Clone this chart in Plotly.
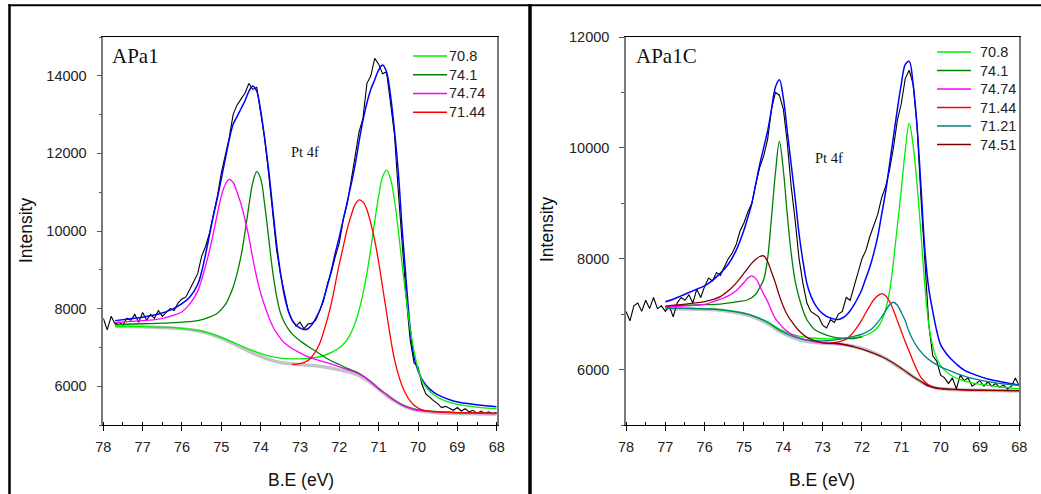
import plotly.graph_objects as go

# ---------------------------------------------------------------
# Pt 4f XPS fits for two samples: APa1 (left) and APa1C (right)
# ---------------------------------------------------------------

# Binding-energy sampling of the measured spectra (eV)
be_raw = [78.0, 77.9, 77.8, 77.7, 77.6, 77.5, 77.4, 77.3, 77.2, 77.1,
          77.0, 76.9, 76.8, 76.7, 76.6, 76.5, 76.4, 76.3, 76.2, 76.1,
          76.0, 75.9, 75.8, 75.7, 75.6, 75.5, 75.4, 75.3, 75.2, 75.1,
          75.0, 74.9, 74.8, 74.7, 74.6, 74.5, 74.4, 74.3, 74.2, 74.1,
          74.0, 73.9, 73.8, 73.7, 73.6, 73.5, 73.4, 73.3, 73.2, 73.1,
          73.0, 72.9, 72.8, 72.7, 72.6, 72.5, 72.4, 72.3, 72.2, 72.1,
          72.0, 71.9, 71.8, 71.7, 71.6, 71.5, 71.4, 71.3, 71.2, 71.1,
          71.0, 70.9, 70.8, 70.7, 70.6, 70.5, 70.4, 70.3, 70.2, 70.1,
          70.0, 69.9, 69.8, 69.7, 69.6, 69.5, 69.4, 69.3, 69.2, 69.1,
          69.0, 68.9, 68.8, 68.7, 68.6, 68.5, 68.4, 68.3, 68.2, 68.1, 68.0]

# ---------------- APa1 ----------------
raw_apa1 = [7750, 7450, 7800, 7600, 7650, 7580, 7750, 7700, 7850, 7650,
            7900, 7700, 7850, 7750, 7950, 7800, 7900, 8000, 7950, 8150,
            8250, 8300, 8500, 8700, 8900, 9350, 9600, 9950, 10400, 10900,
            11500, 11950, 12400, 13000, 13250, 13400, 13550, 13800, 13650, 13700,
            13100, 12400, 11500, 10500, 9550, 8900, 8400, 7950, 7700, 7550,
            7650, 7480, 7600, 7620, 7700, 7950, 8200, 8650, 8950, 9350,
            9700, 10300, 10700, 11300, 11900, 12550, 12900, 13800, 14000, 14450,
            14300, 14050, 14100, 13300, 12500, 11000, 9600, 8300, 7200, 6600,
            6500, 6050, 5800, 5700, 5620, 5550, 5450, 5480, 5430, 5380,
            5450, 5360, 5420, 5340, 5380, 5300, 5360, 5300, 5340, 5290, 5330]

be_bg_apa1 = [77.7, 77.0, 76.5, 76.0, 75.6, 75.3, 75.0, 74.7, 74.4, 74.1, 73.8, 73.5, 73.2, 72.9,
              72.6, 72.3, 72.0, 71.7, 71.4, 71.1, 70.8, 70.5, 70.2, 69.9, 69.6, 69.2, 68.6, 68.0]
bg_apa1 = [7540, 7530, 7515, 7480, 7430, 7350, 7240, 7100, 6950, 6810, 6690, 6610, 6575, 6550,
           6525, 6480, 6420, 6350, 6220, 6010, 5760, 5560, 5420, 5360, 5320, 5300, 5290, 5280]

be_env_apa1 = [77.7, 77.3, 77.0, 76.6, 76.3, 76.0, 75.8, 75.6, 75.5, 75.4, 75.3, 75.2, 75.1, 75.0,
               74.9, 74.8, 74.7, 74.6, 74.5, 74.4, 74.3, 74.2, 74.1, 74.0, 73.9, 73.8, 73.7, 73.6,
               73.5, 73.4, 73.3, 73.2, 73.1, 73.0, 72.9, 72.8, 72.7, 72.6, 72.5, 72.4, 72.3, 72.2,
               72.1, 72.0, 71.9, 71.8, 71.7, 71.6, 71.5, 71.4, 71.3, 71.2, 71.1, 71.0, 70.9, 70.8,
               70.7, 70.6, 70.5, 70.4, 70.3, 70.2, 70.1, 70.0, 69.9, 69.8, 69.6, 69.4, 69.1, 68.8,
               68.4, 68.0]
env_apa1 = [7690, 7740, 7780, 7860, 7960, 8130, 8300, 8620, 8950, 9400, 9900, 10400, 10850, 11350,
            11850, 12350, 12750, 12950, 13150, 13350, 13600, 13740, 13600, 13100, 12400, 11600, 10650, 9700,
            8950, 8350, 7950, 7700, 7570, 7500, 7460, 7480, 7580, 7750, 7950, 8250, 8600, 9000,
            9450, 9850, 10300, 10750, 11200, 11700, 12300, 12850, 13300, 13650, 13900, 14150, 14280, 14100,
            13500, 12600, 11500, 10000, 8700, 7500, 6750, 6400, 6180, 6030, 5840, 5730, 5620, 5560,
            5510, 5470]

be_p708_apa1 = [77.7, 77.0, 76.5, 76.0, 75.6, 75.3, 75.0, 74.7, 74.4, 74.1, 73.8, 73.5, 73.2, 72.9,
                72.6, 72.4, 72.2, 72.0, 71.9, 71.8, 71.7, 71.6, 71.5, 71.4, 71.3, 71.2, 71.1, 71.0,
                70.9, 70.8, 70.7, 70.6, 70.5, 70.4, 70.3, 70.2, 70.1, 70.0, 69.9, 69.8, 69.6, 69.4,
                69.1, 68.8, 68.4, 68.0]
p708_apa1 = [7545, 7535, 7520, 7490, 7440, 7370, 7260, 7130, 7000, 6880, 6780, 6725, 6705, 6710,
             6740, 6790, 6870, 6990, 7080, 7200, 7380, 7620, 7950, 8380, 8900, 9550, 10250, 10900,
             11400, 11570, 11350, 10800, 10000, 9100, 8250, 7500, 6900, 6450, 6150, 5980, 5780, 5660,
             5560, 5500, 5450, 5420]

be_p741_apa1 = [77.7, 77.0, 76.5, 76.0, 75.6, 75.3, 75.1, 74.9, 74.8, 74.7, 74.6, 74.5, 74.4, 74.3,
                74.2, 74.1, 74.0, 73.9, 73.8, 73.7, 73.6, 73.5, 73.4, 73.3, 73.2, 73.0, 72.8, 72.6,
                72.4, 72.2, 72.0, 71.8, 71.6, 71.4, 71.2, 71.0, 70.8, 70.6, 70.4, 70.2, 70.0, 69.5,
                69.0, 68.0]
p741_apa1 = [7590, 7610, 7625, 7650, 7690, 7780, 7880, 8100, 8300, 8550, 8900, 9350, 9950, 10650,
             11250, 11530, 11350, 10700, 9850, 9000, 8350, 7900, 7650, 7480, 7350, 7170, 7030, 6900,
             6770, 6650, 6560, 6460, 6380, 6270, 6120, 5940, 5790, 5640, 5520, 5440, 5390, 5345,
             5320, 5300]

be_p7474_apa1 = [77.7, 77.3, 77.0, 76.6, 76.3, 76.0, 75.8, 75.6, 75.5, 75.4, 75.3, 75.2, 75.1, 75.0,
                 74.9, 74.8, 74.7, 74.6, 74.5, 74.4, 74.3, 74.2, 74.1, 74.0, 73.9, 73.8, 73.7, 73.6,
                 73.5, 73.4, 73.2, 73.0, 72.8, 72.6, 72.4, 72.2, 72.0, 71.8, 71.6, 71.4, 71.2, 71.0,
                 70.8, 70.6, 70.4, 70.2, 70.0, 69.5, 69.0, 68.0]
p7474_apa1 = [7640, 7670, 7690, 7730, 7800, 7920, 8120, 8450, 8750, 9100, 9500, 9950, 10450, 10900,
              11200, 11330, 11250, 11000, 10700, 10300, 9850, 9300, 8800, 8400, 8080, 7800, 7560, 7380,
              7240, 7120, 6970, 6860, 6760, 6690, 6630, 6570, 6500, 6430, 6360, 6260, 6110, 5930,
              5780, 5630, 5510, 5430, 5380, 5340, 5315, 5295]

be_p7144_apa1 = [73.2, 73.0, 72.8, 72.7, 72.6, 72.5, 72.4, 72.3, 72.2, 72.1, 72.0, 71.9, 71.8, 71.7,
                 71.6, 71.5, 71.4, 71.3, 71.2, 71.1, 71.0, 70.9, 70.8, 70.7, 70.6, 70.5, 70.4, 70.3,
                 70.2, 70.1, 70.0, 69.9, 69.7, 69.4, 69.0, 68.5, 68.0]
p7144_apa1 = [6560, 6580, 6660, 6760, 6900, 7100, 7400, 7750, 8150, 8650, 9150, 9600, 10050, 10400,
              10680, 10800, 10750, 10550, 10200, 9750, 9200, 8550, 7900, 7250, 6700, 6300, 6000, 5780,
              5620, 5510, 5440, 5390, 5350, 5330, 5320, 5310, 5305]

# ---------------- APa1C ----------------
raw_apa1c = [7050, 6880, 7150, 7200, 7050, 7250, 7100, 7300, 7100, 7150,
             7050, 7150, 6950, 7200, 7300, 7250, 7350, 7200, 7450, 7300,
             7500, 7650, 7600, 7750, 7700, 7850, 8000, 8100, 8250, 8500,
             8650, 8850, 9000, 9350, 9650, 9850, 10150, 10700, 11000, 10950,
             10700, 10100, 9300, 8700, 8000, 7550, 7200, 7050, 7000, 6950,
             6800, 6750, 6900, 6850, 7000, 7050, 7300, 7250, 7500, 7750,
             8000, 8150, 8400, 8600, 8800, 9100, 9300, 9600, 10000, 10500,
             10800, 11250, 11400, 11150, 10400, 9100, 7900, 6800, 6250, 6150,
             5900, 5850, 5750, 5850, 5650, 5900, 5800, 5850, 5700, 5750,
             5800, 5700, 5780, 5700, 5750, 5680, 5720, 5650, 5700, 5850, 5700]

be_bg_apa1c = [77.0, 76.5, 76.0, 75.6, 75.2, 74.8, 74.4, 74.1, 73.8, 73.5, 73.2, 72.9, 72.6,
               72.3, 72.0, 71.7, 71.4, 71.1, 70.8, 70.5, 70.2, 69.9, 69.5, 69.0, 68.0]
bg_apa1c = [7102, 7095, 7085, 7072, 7030, 6960, 6830, 6690, 6590, 6520, 6490, 6475, 6460,
            6430, 6380, 6300, 6200, 6060, 5920, 5780, 5680, 5650, 5635, 5625, 5615]

be_env_apa1c = [77.0, 76.8, 76.6, 76.4, 76.2, 76.0, 75.8, 75.6, 75.4, 75.2, 75.0, 74.9, 74.8, 74.7,
                74.6, 74.5, 74.4, 74.3, 74.2, 74.1, 74.0, 73.9, 73.8, 73.7, 73.6, 73.5, 73.4, 73.3,
                73.2, 73.1, 73.0, 72.9, 72.8, 72.7, 72.6, 72.5, 72.4, 72.3, 72.2, 72.1, 72.0, 71.9,
                71.8, 71.7, 71.6, 71.5, 71.4, 71.3, 71.2, 71.1, 71.0, 70.9, 70.8, 70.7, 70.6, 70.5,
                70.4, 70.3, 70.2, 70.1, 70.0, 69.8, 69.6, 69.4, 69.1, 68.8, 68.4, 68.0]
env_apa1c = [7224, 7270, 7330, 7390, 7450, 7510, 7610, 7740, 7900, 8150, 8520, 8750, 9000, 9350,
             9700, 10000, 10300, 10700, 11100, 11230, 10900, 10300, 9700, 9100, 8450, 7950, 7550, 7330,
             7180, 7080, 7010, 6960, 6930, 6910, 6905, 6930, 6980, 7060, 7170, 7300, 7450, 7650,
             7850, 8100, 8400, 8800, 9200, 9700, 10200, 10700, 11150, 11500, 11560, 11150, 10400, 9300,
             8150, 7450, 7050, 6700, 6450, 6240, 6100, 5990, 5900, 5830, 5770, 5717]

be_p708_apa1c = [77.0, 76.0, 75.2, 74.8, 74.4, 74.1, 73.8, 73.5, 73.2, 72.9, 72.6, 72.3, 72.0, 71.8,
                 71.6, 71.5, 71.4, 71.3, 71.2, 71.1, 71.0, 70.9, 70.8, 70.7, 70.6, 70.5, 70.4, 70.3,
                 70.2, 70.1, 70.0, 69.9, 69.7, 69.5, 69.2, 68.8, 68.4, 68.0]
p708_apa1c = [7110, 7095, 7045, 6980, 6860, 6730, 6640, 6590, 6565, 6555, 6555, 6570, 6600, 6650,
              6760, 6880, 7080, 7400, 7950, 8600, 9250, 9950, 10440, 10050, 9350, 8450, 7500, 6800,
              6420, 6200, 6070, 5990, 5880, 5820, 5760, 5715, 5680, 5656]

be_p741_apa1c = [77.0, 76.5, 76.0, 75.6, 75.2, 74.9, 74.7, 74.6, 74.5, 74.4, 74.3, 74.2, 74.1, 74.0,
                 73.9, 73.8, 73.7, 73.6, 73.5, 73.4, 73.3, 73.2, 73.0, 72.8, 72.6, 72.4, 72.2, 72.0]
p741_apa1c = [7134, 7160, 7170, 7182, 7220, 7260, 7360, 7480, 7620, 8000, 8750, 9550, 10118, 9600,
              8800, 8100, 7600, 7300, 7070, 6900, 6800, 6720, 6650, 6600, 6570, 6560, 6560, 6590]

be_p7474_apa1c = [77.0, 76.5, 76.0, 75.8, 75.6, 75.4, 75.2, 75.1, 75.0, 74.9, 74.8, 74.7, 74.6, 74.5,
                  74.4, 74.3, 74.2, 74.1, 74.0, 73.8, 73.6, 73.4, 73.2, 73.0, 72.8, 72.6, 72.4, 72.2]
p7474_apa1c = [7134, 7150, 7175, 7220, 7270, 7330, 7420, 7495, 7570, 7650, 7690, 7640, 7510, 7360,
               7230, 7060, 6920, 6830, 6750, 6640, 6570, 6530, 6500, 6480, 6470, 6460, 6445, 6420]

be_p7144_apa1c = [72.8, 72.6, 72.4, 72.3, 72.2, 72.1, 72.0, 71.9, 71.8, 71.7, 71.6, 71.5, 71.4, 71.3,
                  71.2, 71.1, 71.0, 70.9, 70.8, 70.7, 70.6, 70.5, 70.4, 70.3, 70.2, 70.0, 69.5, 69.0, 68.0]
p7144_apa1c = [6480, 6500, 6550, 6610, 6690, 6790, 6900, 7030, 7150, 7260, 7330, 7370, 7330, 7230,
               7070, 6880, 6690, 6500, 6330, 6150, 5990, 5860, 5780, 5720, 5685, 5650, 5635, 5625, 5615]

be_p7121_apa1c = [77.0, 76.5, 76.0, 75.6, 75.2, 74.8, 74.4, 74.1, 73.8, 73.5, 73.2, 72.9, 72.6, 72.4,
                  72.2, 72.0, 71.8, 71.7, 71.6, 71.5, 71.4, 71.3, 71.2, 71.1, 71.0, 70.9, 70.8, 70.7,
                  70.6, 70.5, 70.4, 70.2, 70.0, 69.8, 69.6, 69.3, 69.0, 68.6, 68.3, 68.0]
p7121_apa1c = [7110, 7105, 7095, 7082, 7040, 6975, 6850, 6710, 6610, 6545, 6520, 6520, 6545, 6570,
               6600, 6640, 6710, 6770, 6850, 6950, 7060, 7170, 7215, 7160, 7030, 6880, 6680, 6530,
               6410, 6320, 6240, 6130, 6050, 5990, 5930, 5860, 5810, 5760, 5735, 5717]

be_p7451_apa1c = [77.0, 76.5, 76.0, 75.8, 75.6, 75.4, 75.2, 75.0, 74.9, 74.8, 74.7, 74.6, 74.5, 74.4,
                  74.3, 74.2, 74.1, 74.0, 73.9, 73.8, 73.6, 73.4, 73.2, 73.0, 72.6, 72.2, 71.8, 71.4,
                  71.0, 70.7, 70.5, 70.3, 70.0, 69.5, 69.0, 68.0]
p7451_apa1c = [7146, 7180, 7225, 7260, 7315, 7420, 7560, 7740, 7830, 7920, 7990, 8040, 8050, 7950,
               7760, 7560, 7330, 7140, 6990, 6880, 6700, 6580, 6520, 6480, 6470, 6410, 6320, 6200,
               6025, 5870, 5785, 5700, 5660, 5640, 5630, 5620]

# Tick values
x_ticks = [78, 77, 76, 75, 74, 73, 72, 71, 70, 69, 68]

# Styling
C_GREEN, C_DKGREEN, C_MAGENTA = "#00ee00", "#008000", "#ff00ff"
C_RED, C_TEAL, C_BROWN = "#ff0000", "#008080", "#800000"
SANS = "Arial, 'Liberation Sans', sans-serif"
SERIF = "'Times New Roman', 'Liberation Serif', serif"
W, H = 1041, 494

# Fitted components per panel: (binding energies, intensities, colour, peak label)
components_apa1 = [
    (be_p708_apa1, p708_apa1, C_GREEN, "70.8"),
    (be_p741_apa1, p741_apa1, C_DKGREEN, "74.1"),
    (be_p7474_apa1, p7474_apa1, C_MAGENTA, "74.74"),
    (be_p7144_apa1, p7144_apa1, C_RED, "71.44"),
]
components_apa1c = [
    (be_p708_apa1c, p708_apa1c, C_GREEN, "70.8"),
    (be_p741_apa1c, p741_apa1c, C_DKGREEN, "74.1"),
    (be_p7474_apa1c, p7474_apa1c, C_MAGENTA, "74.74"),
    (be_p7144_apa1c, p7144_apa1c, C_RED, "71.44"),
    (be_p7121_apa1c, p7121_apa1c, C_TEAL, "71.21"),
    (be_p7451_apa1c, p7451_apa1c, C_BROWN, "74.51"),
]

fig = go.Figure()


def curve(x, y, color, width, xa, ya, name=None, shape="spline"):
    fig.add_trace(go.Scatter(
        x=x, y=y, mode="lines", name=name,
        line=dict(color=color, width=width, shape=shape),
        showlegend=False, xaxis=xa, yaxis=ya, hoverinfo="skip"))


def panel(bg_x, bg_y, raw_y, env_x, env_y, comps, xa, ya):
    curve(bg_x, bg_y, "#c4c4c4", 3.5, xa, ya, name="background")
    curve(be_raw, raw_y, "#000000", 1.1, xa, ya, name="measured", shape="linear")
    curve(env_x, env_y, "#0000ff", 1.5, xa, ya, name="envelope")
    for bx, by, col, lab in comps:
        curve(bx, by, col, 1.3, xa, ya, name=lab)


panel(be_bg_apa1, bg_apa1, raw_apa1, be_env_apa1, env_apa1, components_apa1, "x", "y")
panel(be_bg_apa1c, bg_apa1c, raw_apa1c, be_env_apa1c, env_apa1c, components_apa1c, "x2", "y2")


def px(x):
    return x / W


def py(y):
    return 1 - y / H


y_dom = [py(425), py(37)]

xaxis_common = dict(
    range=[78, 68], tickmode="array", tickvals=x_ticks,
    ticks="outside", ticklen=5, tickwidth=1, tickcolor="#000",
    minor=dict(dtick=0.5, tick0=68, ticks="inside", ticklen=3, tickcolor="#000", tickwidth=1),
    showline=True, linecolor="#000", linewidth=1, mirror=True,
    showgrid=False, zeroline=False, automargin=False,
    tickfont=dict(family=SANS, size=14.5, color="#222"),
    ticklabelstandoff=4,
)
yaxis_common = dict(
    dtick=2000, tick0=0, tickformat="d",
    ticks="outside", ticklen=5, tickwidth=1, tickcolor="#555",
    minor=dict(dtick=1000, tick0=0, ticks="outside", ticklen=3, tickcolor="#555", tickwidth=1),
    showline=True, linecolor="#7a7a7a", linewidth=1.5, mirror=True,
    showgrid=False, zeroline=False, automargin=False,
    tickfont=dict(family=SANS, size=14.5, color="#222"),
    ticklabelstandoff=7,
)

annotations = [
    dict(text="APa1", x=px(110), y=py(56), xanchor="left", yanchor="middle",
         font=dict(family=SERIF, size=21, color="#111")),
    dict(text="APa1C", x=px(634), y=py(56), xanchor="left", yanchor="middle",
         font=dict(family=SERIF, size=21, color="#111")),
    dict(text="Pt 4f", x=px(305), y=py(152), xanchor="center", yanchor="middle",
         font=dict(family=SERIF, size=14.5, color="#111")),
    dict(text="Pt 4f", x=px(829), y=py(158), xanchor="center", yanchor="middle",
         font=dict(family=SERIF, size=14.5, color="#111")),
    dict(text="Intensity", x=px(26), y=py(231), textangle=-90, xanchor="center", yanchor="middle",
         font=dict(family=SANS, size=17.5, color="#111")),
    dict(text="Intensity", x=px(547), y=py(230), textangle=-90, xanchor="center", yanchor="middle",
         font=dict(family=SANS, size=17.5, color="#111")),
    dict(text="B.E (eV)", x=px(301), y=py(480), xanchor="center", yanchor="middle",
         font=dict(family=SANS, size=17.5, color="#111")),
    dict(text="B.E (eV)", x=px(822), y=py(480), xanchor="center", yanchor="middle",
         font=dict(family=SANS, size=17.5, color="#111")),
]

# Figure frame: outer border on the left/top and the panel separator
shapes = [
    dict(type="line", x0=px(9.5), x1=px(9.5), y0=0, y1=py(4.3), line=dict(color="#000", width=2.5)),
    dict(type="line", x0=px(8.3), x1=1, y0=py(5.3), y1=py(5.3), line=dict(color="#000", width=2)),
    dict(type="line", x0=px(530), x1=px(530), y0=0, y1=py(4.3), line=dict(color="#000", width=3.5)),
]


# Compact legend keys in the top-right corner of each panel
def legend_keys(comps, x_line0, x_line1, x_text, y_first, step):
    for i, (_, _, col, lab) in enumerate(comps):
        yy = y_first + i * step
        shapes.append(dict(type="line", x0=px(x_line0), x1=px(x_line1), y0=py(yy), y1=py(yy),
                           line=dict(color=col, width=1.4)))
        annotations.append(dict(text=lab, x=px(x_text), y=py(yy), xanchor="left", yanchor="middle",
                                font=dict(family=SANS, size=14.5, color="#222")))


legend_keys(components_apa1, 413, 447, 447, 56, 18.75)
legend_keys(components_apa1c, 937, 971, 978, 52, 18.5)

for a in annotations:
    a.update(xref="paper", yref="paper", showarrow=False)
for s in shapes:
    s.update(xref="paper", yref="paper")

fig.update_layout(
    width=W, height=H, autosize=False,
    margin=dict(l=0, r=0, t=0, b=0, pad=0, autoexpand=False),
    paper_bgcolor="white", plot_bgcolor="white",
    xaxis=dict(domain=[px(103.3), px(496.7)], anchor="y", **xaxis_common),
    yaxis=dict(domain=y_dom, anchor="x", range=[5000, 15000], **yaxis_common),
    xaxis2=dict(domain=[px(626), px(1019.3)], anchor="y2", **xaxis_common),
    yaxis2=dict(domain=y_dom, anchor="x2", range=[5000, 12000], **yaxis_common),
    annotations=annotations,
    shapes=shapes,
    showlegend=False,
)

fig.write_html("out.html")
